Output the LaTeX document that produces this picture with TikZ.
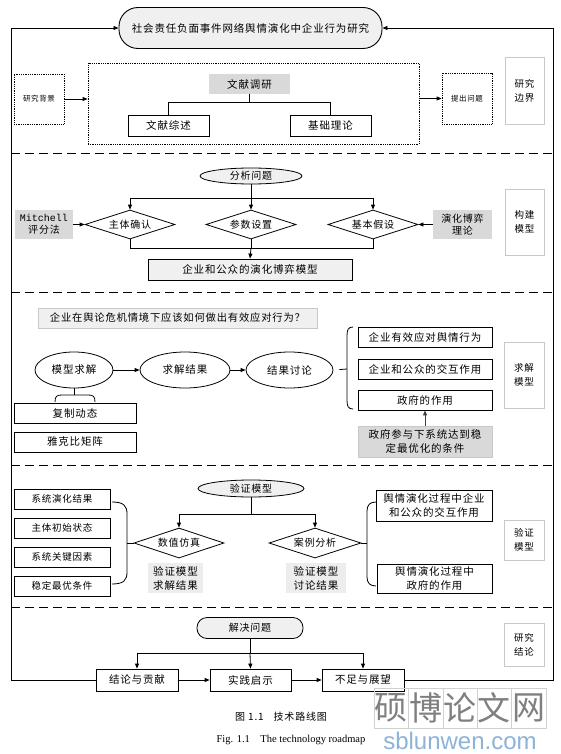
\documentclass[tikz,border=0pt]{standalone}
\usepackage{fontspec}
\setmainfont[LetterSpace=8]{Noto Sans CJK SC}
\newfontfamily\monof{Liberation Mono}
\newfontfamily\serf{Liberation Serif}
\newfontfamily\wmsans{Liberation Sans}
\newfontfamily\wmcjk{Noto Sans CJK SC}
\usetikzlibrary{shapes.geometric, arrows.meta, calc}
\definecolor{gA}{HTML}{D9D9D9}
\definecolor{gB}{HTML}{F0F0F0}
\definecolor{gC}{HTML}{C8C8C8}
\definecolor{wmblue}{HTML}{8DB3D9}
\tikzset{
  base/.style={inner sep=0pt, align=center, font=\fontsize{10.5}{13}\selectfont},
  bx/.style={base, draw, line width=0.8pt},
  dotbox/.style={base, draw, densely dotted, line width=0.8pt},
  lab/.style={base, draw=gC, line width=0.6pt, font=\fontsize{9.5}{14}\selectfont},
  gbox/.style={base, fill=gA},
  dia/.style={base, draw, diamond, aspect=3, line width=0.8pt, font=\fontsize{10}{12}\selectfont},
  ell/.style={base, draw, ellipse, line width=0.8pt},
  arr/.style={-{Triangle[length=5pt,width=4pt]}, line width=0.8pt},
  ln/.style={line width=0.8pt},
  sepline/.style={line width=0.9pt, dash pattern=on 9pt off 5pt},
}
\begin{document}
\begin{tikzpicture}[x=1pt,y=-1pt]
\useasboundingbox (0,0) rectangle (560,754);
\fill[white] (0,0) rectangle (560,754);

% ---------- title and frame ----------
\node[base, draw, fill=gB, rounded corners=19pt, minimum width=263, minimum height=41, line width=0.9pt, font=\fontsize{10.5}{13}\selectfont] (title) at (250.5,28) {社会责任负面事件网络舆情演化中企业行为研究};

% ---------- section 1 ----------
\node[dotbox, minimum width=331, minimum height=81] (big) at (253.5,103.5) {};
\node[dotbox, minimum width=50, minimum height=50, font=\fontsize{7.5}{9}\selectfont] (bg) at (39,99) {研究背景};
\node[dotbox, minimum width=50, minimum height=51, font=\fontsize{7.5}{9}\selectfont] (tc) at (467,98.5) {提出问题};
\node[gbox, minimum width=81, minimum height=20] (wx) at (249.5,84) {文献调研};
\node[bx, minimum width=81, minimum height=21] (ws) at (168.5,125.5) {文献综述};
\node[bx, minimum width=81, minimum height=21] (jc) at (330.5,125.5) {基础理论};
\node[lab, minimum width=39, minimum height=67] (lab1) at (524.5,90.5) {研究\\边界};
\coordinate (wxj) at (249.5,102);
\draw[ln] (wx.south) -- (wxj);
\draw[ln] (wxj) -| (ws.north);
\draw[ln] (wxj) -| (jc.north);
\draw[arr] (bg.east) -- (bg.east -| big.west);
\draw[arr] (big.east |- tc.west) -- (tc.west);
\draw[sepline] (11,153) -- (553,153);

% ---------- section 2 ----------
\node[ell, fill=gB, minimum width=102, minimum height=16, font=\fontsize{10}{12}\selectfont] (fx) at (251,176) {分析问题};
\node[dia, minimum width=90, minimum height=29] (d1) at (130,224.5) {主体确认};
\node[dia, minimum width=90, minimum height=29] (d2) at (251,224.5) {参数设置};
\node[dia, minimum width=90, minimum height=29] (d3) at (373,224.5) {基本假设};
\node[base, fill=gB, draw, line width=0.8pt, minimum width=204, minimum height=21] (model) at (250,269.5) {企业和公众的演化博弈模型};
\node[gbox, minimum width=58, minimum height=29, font=\fontsize{10}{12.5}\selectfont] (mit) at (44,224.5) {{\monof Mitchell}\\评分法};
\node[gbox, minimum width=59, minimum height=29, font=\fontsize{10}{12.5}\selectfont] (yh) at (462.5,224.5) {演化博弈\\理论};
\node[lab, minimum width=39, minimum height=66] (lab2) at (524.5,222) {构建\\模型};
\coordinate (fxj) at (251,198);
\draw[ln] (fx.south) -- (fxj);
\draw[arr] (fxj) -| (d1.north);
\draw[arr] (fxj) -| (d3.north);
\draw[arr] (fxj) -- (d2.north);
\coordinate (mj) at (251,248);
\draw[ln] (d1.south) |- (mj);
\draw[ln] (d3.south) |- (mj);
\draw[ln] (d2.south) -- (mj);
\draw[arr] (mj) -- (model.north);
\draw[arr] (mit.east) -- (d1.west);
\draw[arr] (yh.west) -- (d3.east);
\draw[sepline] (11,292) -- (553,292);

% ---------- section 3 ----------
\node[base, fill=gB, draw=gC, line width=0.6pt, minimum width=279, minimum height=20, font=\fontsize{10.3}{13}\selectfont] (q) at (177.5,318) {企业在舆论危机情境下应该如何做出有效应对行为？};
\node[ell, minimum width=78, minimum height=36] (e1) at (74,370) {模型求解};
\node[ell, minimum width=90, minimum height=36] (e2) at (185,370) {求解结果};
\node[ell, minimum width=87, minimum height=36] (e3) at (289.5,370) {结果讨论};
\draw[arr] (e1.east) -- (e2.west);
\draw[arr] (e2.east) -- (e3.west);
\node[bx, minimum width=122, minimum height=20] (fz) at (75,413) {复制动态};
\node[bx, minimum width=122, minimum height=20] (yk) at (75,442) {雅克比矩阵};
\coordinate (e1j) at (74,395);
\draw[ln] (e1.south) -- (e1j);
\draw[ln] (55,402) .. controls (55,396) and (57,395) .. (62,395) -- (88,395) .. controls (93,395) and (95,396) .. (95,402);
\node[bx, minimum width=134, minimum height=20] (r1) at (425,337) {企业有效应对舆情行为};
\node[bx, minimum width=134, minimum height=20] (r2) at (425,369) {企业和公众的交互作用};
\node[bx, minimum width=134, minimum height=20] (r3) at (425,400) {政府的作用};
\draw[ln] (353,327) .. controls (348,327) and (347,330) .. (347,336) -- (347,400) .. controls (347,406) and (348,409) .. (353,409);
\coordinate (bra3) at (347,369);
\draw[ln, shorten <=6pt] (e3.east) -- (bra3);
\node[base, fill=gA, draw=gC, line width=0.6pt, minimum width=134, minimum height=31, font=\fontsize{10.5}{14}\selectfont] (gov) at (425,441.5) {政府参与下系统达到稳\\定最优化的条件};
\draw[arr, black!75, line width=1pt] (gov.north) -- (r3.south);
\node[lab, minimum width=40, minimum height=66] (lab3) at (524,375) {求解\\模型};
\draw[sepline] (11,465) -- (553,465);

% ---------- section 4 ----------
\node[ell, fill=gB, minimum width=106, minimum height=17, font=\fontsize{10}{12}\selectfont] (yz) at (251,488.5) {验证模型};
\node[dia, minimum width=90, minimum height=30] (s1) at (179,543) {数值仿真};
\node[dia, minimum width=92, minimum height=30] (s2) at (315,543) {案例分析};
\coordinate (yzj) at (251,514);
\draw[ln] (yz.south) -- (yzj);
\draw[arr] (yzj) -| (s1.north);
\draw[arr] (yzj) -| (s2.north);
\node[bx, minimum width=96, minimum height=20, font=\fontsize{9.5}{12}\selectfont] (L1) at (62,499) {系统演化结果};
\node[bx, minimum width=96, minimum height=20, font=\fontsize{9.5}{12}\selectfont] (L2) at (62,528) {主体初始状态};
\node[bx, minimum width=96, minimum height=20, font=\fontsize{9.5}{12}\selectfont] (L3) at (62,557) {系统关键因素};
\node[bx, minimum width=96, minimum height=20, font=\fontsize{9.5}{12}\selectfont] (L4) at (62,586) {稳定最优条件};
\draw[ln] (112,502) .. controls (124,502) and (127,506) .. (127,514) -- (127,572) .. controls (127,580) and (124,584) .. (112,584);
\coordinate (braL) at (127,543);
\draw[ln] (braL) -- (s1.west);
\node[base, fill=black!7, minimum width=55, minimum height=30, font=\fontsize{10.5}{14}\selectfont] (g1) at (175.5,578) {验证模型\\求解结果};
\node[base, fill=black!7, minimum width=60, minimum height=30, font=\fontsize{10.5}{14}\selectfont] (g2) at (316,578) {验证模型\\讨论结果};
\node[bx, minimum width=116, minimum height=31, font=\fontsize{10.5}{14}\selectfont] (b1) at (434,505.5) {舆情演化过程中企业\\和公众的交互作用};
\node[bx, minimum width=115, minimum height=29, font=\fontsize{10.5}{14}\selectfont] (b2) at (434.5,578.5) {舆情演化过程中\\政府的作用};
\draw[ln] (376,502) .. controls (370,502) and (367,505) .. (367,511) -- (367,577) .. controls (367,583) and (370,586) .. (376,586);
\coordinate (braR) at (367,543);
\draw[ln] (s2.east) -- (braR);
\node[lab, minimum width=40, minimum height=40] (lab4) at (524,540) {验证\\模型};
\draw[sepline] (11,607) -- (553,607);

% ---------- section 5 ----------
\node[base, draw, fill=gB, rounded corners=10pt, line width=0.8pt, minimum width=106, minimum height=21, font=\fontsize{10}{12}\selectfont] (jj) at (250,628) {解决问题};
\node[bx, minimum width=82, minimum height=22] (c1) at (137,680) {结论与贡献};
\node[bx, minimum width=81, minimum height=22] (c2) at (250.5,680) {实践启示};
\node[bx, minimum width=82, minimum height=22] (c3) at (363,680) {不足与展望};
\coordinate (jjj) at (250,653);
\draw[ln] (jj.south) -- (jjj);
\draw[arr] (jjj) -| (c1.north);
\draw[arr] (jjj) -| (c3.north);
\draw[arr] (jjj) -- (c2.north);
\draw[arr] (c1.east) -- (c2.west);
\draw[arr] (c2.east) -- (c3.west);
\node[lab, minimum width=40, minimum height=43] (lab5) at (524,644.5) {研究\\结论};

% frame
\coordinate (TL) at (11,28);
\coordinate (TR) at (553,28);
\draw[arr] (c1.west) -| (TL) -- (title.west);
\draw[arr] (c3.east) -| (TR) -- (title.east);

% caption
\node[base, font=\fontsize{10}{12}\selectfont] (cap1) at (281,717) {图 1.1\quad 技术路线图};
\node[base, font=\serf\fontsize{10.5}{12}\selectfont] (cap2) at (291,740) {Fig. 1.1\quad The technology roadmap};

% watermark
\foreach \c [count=\i from 0] in {硕,博,论,文,网} {
  \draw[black!18, line width=0.6pt] (374+34.4*\i,688) rectangle ++(34.4,40);
  \node[base, font=\wmcjk\fontsize{33}{33}\selectfont, text=black!50] (wm\i) at (391.2+34.4*\i,708) {\c};
}
\node[base, font=\wmsans\fontsize{24}{24}\selectfont, text=wmblue] (wmurl) at (460,741) {sblunwen.com};
\end{tikzpicture}
\end{document}
